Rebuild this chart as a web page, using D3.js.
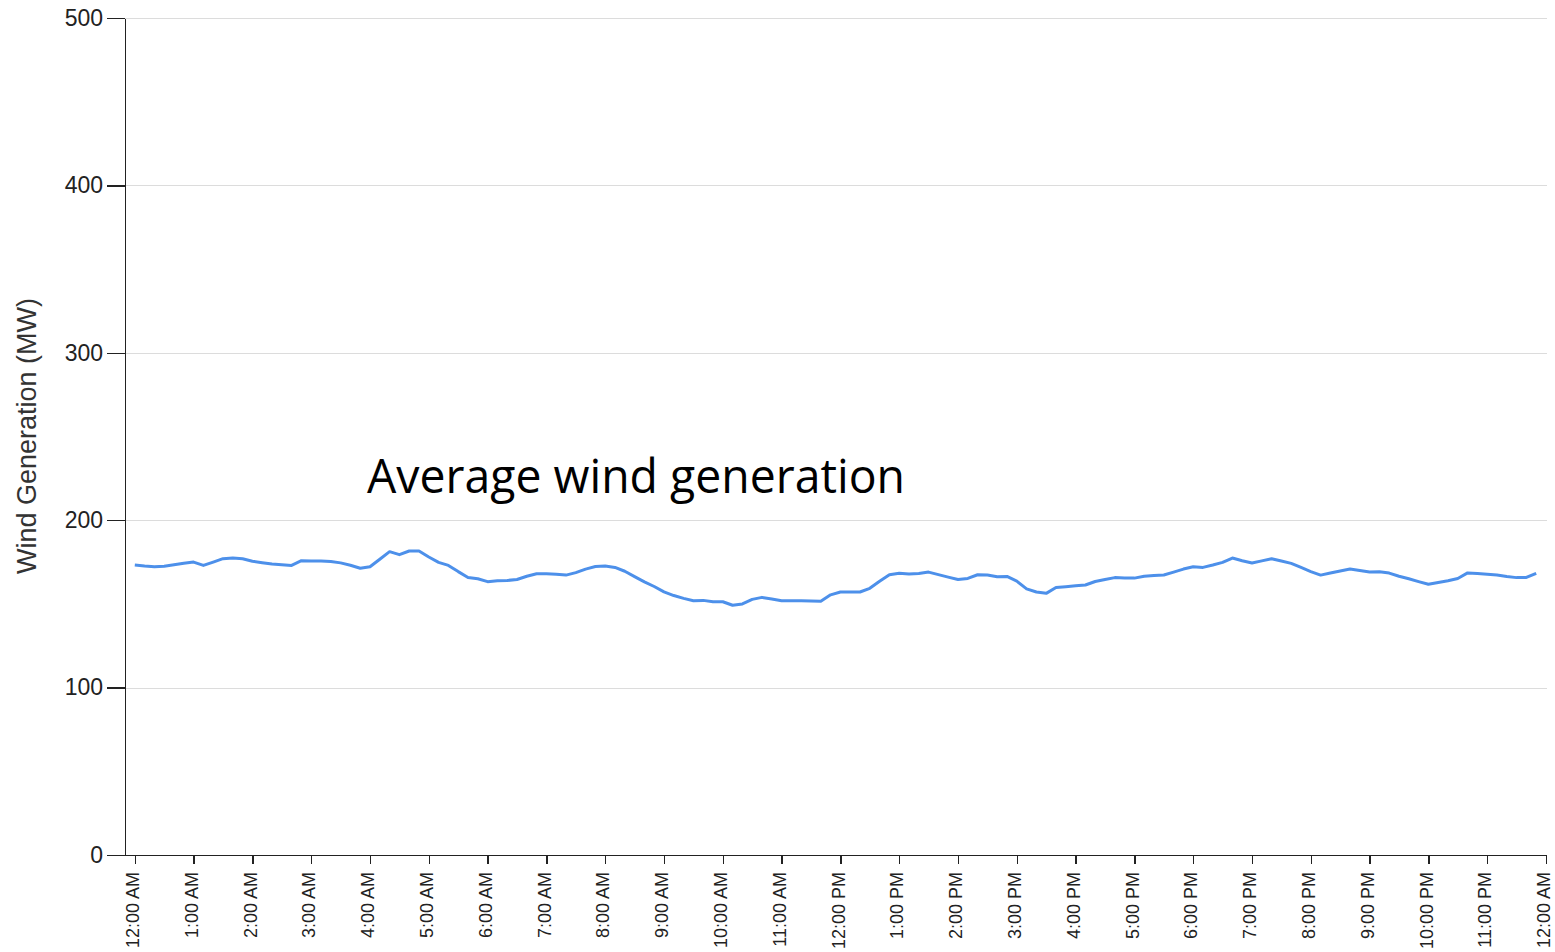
<!DOCTYPE html>
<html lang="en">
<head>
<meta charset="UTF-8">
<title>Average wind generation</title>
<style>
    body { margin: 0; background: #fff; }
    svg { display: block; }
    .axis path, .axis line { fill: none; stroke: #222; stroke-width: 1.5px; shape-rendering: crispEdges; }
    .axis text { font-family: "Liberation Sans", Arial, sans-serif; fill: #222; }
    .grid line { stroke: #dcdcdc; stroke-width: 1px; shape-rendering: crispEdges; }
    .grid path { display: none; }
    .line { fill: none; stroke: #4d90ea; stroke-width: 3px; stroke-linejoin: round; }
</style>
</head>
<body>
<svg width="1555" height="952"></svg>
<script src="https://d3js.org/d3.v7.min.js"></script>
<script>
// wind generation (MW), one reading every 10 minutes from 12:00 AM
const intervalMinutes = 10;
const windMW = [
    173.2, 172.6, 172.2, 172.5, 173.4, 174.3, 175.0, 173.0, 175.0, 177.0,
    177.4, 177.0, 175.5, 174.6, 173.8, 173.4, 173.0, 175.8, 175.7, 175.6,
    175.3, 174.5, 173.1, 171.3, 172.2, 176.7, 181.2, 179.4, 181.6, 181.6,
    178.0, 174.8, 173.0, 169.3, 165.8, 165.0, 163.3, 163.8, 164.0, 164.6,
    166.5, 168.0, 168.0, 167.7, 167.2, 168.7, 170.8, 172.3, 172.7, 171.8,
    169.5, 166.3, 163.2, 160.4, 157.2, 155.0, 153.3, 151.9, 152.1, 151.3,
    151.3, 149.2, 150.0, 152.7, 153.9, 152.9, 151.9, 151.9, 151.9, 151.7,
    151.6, 155.4, 157.1, 157.1, 157.1, 159.3, 163.5, 167.4, 168.3, 167.8,
    168.2, 169.0, 167.5, 166.0, 164.6, 165.2, 167.4, 167.3, 166.2, 166.4,
    163.6, 159.0, 157.1, 156.3, 159.8, 160.3, 160.8, 161.3, 163.4, 164.6,
    165.7, 165.5, 165.4, 166.5, 167.0, 167.3, 169.0, 170.8, 172.2, 171.8,
    173.2, 174.8, 177.4, 175.8, 174.4, 175.7, 177.0, 175.6, 174.2, 171.8,
    169.3, 167.2, 168.5, 169.7, 170.8, 169.9, 169.0, 169.2, 168.4, 166.5,
    165.0, 163.3, 161.7, 162.8, 163.8, 165.2, 168.5, 168.1, 167.7, 167.3,
    166.4, 165.7, 165.8, 168.3
];

const tickLabels = [
    "12:00 AM", "1:00 AM", "2:00 AM", "3:00 AM", "4:00 AM", "5:00 AM",
    "6:00 AM", "7:00 AM", "8:00 AM", "9:00 AM", "10:00 AM", "11:00 AM",
    "12:00 PM", "1:00 PM", "2:00 PM", "3:00 PM", "4:00 PM", "5:00 PM",
    "6:00 PM", "7:00 PM", "8:00 PM", "9:00 PM", "10:00 PM", "11:00 PM",
    "12:00 AM"
];
const yTicks = [0, 100, 200, 300, 400, 500];
const yTitle = "Wind Generation (MW)";
const annotation = "Average wind generation";

const svg = d3.select("svg");

const dayStart = new Date(2000, 0, 1, 0, 0);
const dayEnd = d3.timeDay.offset(dayStart, 1);
const data = windMW.map(function(v, i) {
    return { time: d3.timeMinute.offset(dayStart, i * intervalMinutes), value: v };
});
const hourTicks = d3.timeHour.range(dayStart, d3.timeMinute.offset(dayEnd, 1));

// x starts a little before midnight so the first tick sits off the y axis
const x = d3.scaleTime()
    .domain([d3.timeMinute.offset(dayStart, -10), dayEnd])
    .range([125, 1546]);
const y = d3.scaleLinear()
    .domain([0, 500])
    .range([855, 18]);

// gridlines
svg.append("g")
    .attr("class", "grid")
    .attr("transform", "translate(125,0)")
    .call(d3.axisLeft(y).tickValues(yTicks.slice(1)).tickSize(-1422).tickFormat(""));

// y axis
const yAxis = svg.append("g")
    .attr("class", "axis")
    .attr("transform", "translate(125,0)")
    .call(d3.axisLeft(y).tickValues(yTicks).tickSize(18).tickPadding(4).tickSizeOuter(0));
yAxis.selectAll("text").style("font-size", "23px");

// x axis
const xAxis = svg.append("g")
    .attr("class", "axis")
    .attr("transform", "translate(0,855)")
    .call(d3.axisBottom(x)
        .tickValues(hourTicks)
        .tickSize(9)
        .tickSizeOuter(0)
        .tickFormat(function(d, i) { return tickLabels[i]; }));
xAxis.select(".domain").attr("d", "M107,0.5H1546");
xAxis.selectAll("text")
    .attr("transform", "rotate(-90)")
    .attr("x", -17)
    .attr("y", 0)
    .attr("dy", "0.2em")
    .style("text-anchor", "end")
    .style("font-size", "18px");

// y axis title
svg.append("text")
    .attr("transform", "translate(36,436) rotate(-90)")
    .style("text-anchor", "middle")
    .style("font-family", "\"Liberation Sans\", Arial, sans-serif")
    .style("font-size", "27px")
    .style("fill", "#333")
    .text(yTitle);

// the line
const line = d3.line()
    .x(function(d) { return x(d.time); })
    .y(function(d) { return y(d.value); });
svg.append("path")
    .datum(data)
    .attr("class", "line")
    .attr("d", line);

// annotation
svg.append("text")
    .attr("x", 367)
    .attr("y", 493)
    .attr("textLength", 538)
    .attr("lengthAdjust", "spacingAndGlyphs")
    .style("font-family", "\"Open Sans\", sans-serif")
    .style("font-size", "47px")
    .style("fill", "#000")
    .text(annotation);
</script>
</body>
</html>
